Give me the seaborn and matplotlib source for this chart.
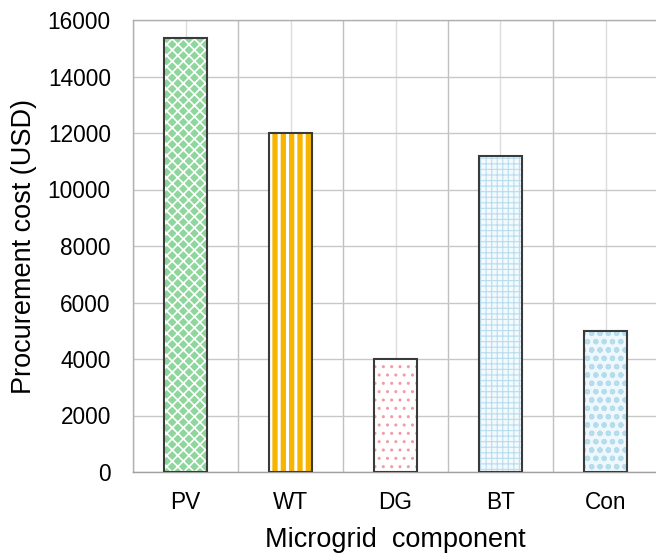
import matplotlib
matplotlib.use("Agg")
import matplotlib.pyplot as plt
import seaborn as sns
import pandas as pd
from matplotlib.patches import Rectangle
from matplotlib.ticker import MultipleLocator

categories = ["PV", "WT", "DG", "BT", "Con"]
costs = [15370, 12000, 4000, 11200, 5000]
yticks = [0, 2000, 4000, 6000, 8000, 10000, 12000, 14000, 16000]

face_colors = ["#8fd69d", "#f7b500", "#ffffff", "#f2fafd", "#eef8fc"]
hatch_colors = ["#ffffff", "#ffffff", "#f29aa6", "#b9dcee", "#b4dcec"]
hatches = ["xxx", "||", "..", "+++", "oo"]
hatch_widths = [1.2, 2.2, 1.0, 0.8, 1.5]

sns.set_theme(style="white")
plt.rcParams["font.family"] = ["Liberation Sans", "DejaVu Sans"]

df = pd.DataFrame({"component": categories, "cost": costs})

fig = plt.figure(figsize=(6.56, 5.56), dpi=100)
ax = fig.add_axes([133 / 656, 1 - 472 / 556, 525 / 656, 452 / 556])

sns.barplot(data=df, x="component", y="cost", ax=ax, width=0.41,
            color="white", zorder=3)

for i, p in enumerate(ax.patches):
    p.set_facecolor(face_colors[i])
    p.set_hatch(hatches[i])
    p.set_edgecolor(hatch_colors[i])
    p.set_linewidth(0)
    if hasattr(p, "set_hatch_linewidth"):
        p.set_hatch_linewidth(hatch_widths[i])
    ax.add_patch(Rectangle(p.get_xy(), p.get_width(), p.get_height(),
                           fill=False, edgecolor="#3a3a3a", linewidth=1.5,
                           zorder=4))

ax.set_xlim(-0.5, len(categories) - 0.5)
ax.set_ylim(0, 16000)
ax.set_yticks(yticks)
ax.set_xticks(range(len(categories)))
ax.set_xticks([i - 0.5 for i in range(len(categories) + 1)], minor=True)

ax.grid(False)
ax.yaxis.grid(True, color="#c8c8c8", linewidth=1.0, zorder=0)
ax.xaxis.grid(True, which="major", color="#dcdcdc", linewidth=1.0, zorder=0)
ax.xaxis.grid(True, which="minor", color="#c0c0c0", linewidth=1.0, zorder=0)
ax.set_axisbelow(True)

for s in ax.spines.values():
    s.set_visible(True)
    s.set_color("#b0b0b0")
    s.set_linewidth(1.0)
ax.spines["bottom"].set_color("#a0a0a0")

ax.tick_params(axis="both", which="both", length=0, labelsize=16.3,
               colors="black")
ax.tick_params(axis="y", pad=16)
ax.tick_params(axis="x", pad=14)

ax.set_xlabel("Microgrid  component", fontsize=19.5, labelpad=9,
              color="black")
ax.set_ylabel("Procurement cost (USD)", fontsize=19.5, labelpad=8,
              color="black")

fig.savefig("out.png", dpi=100)
